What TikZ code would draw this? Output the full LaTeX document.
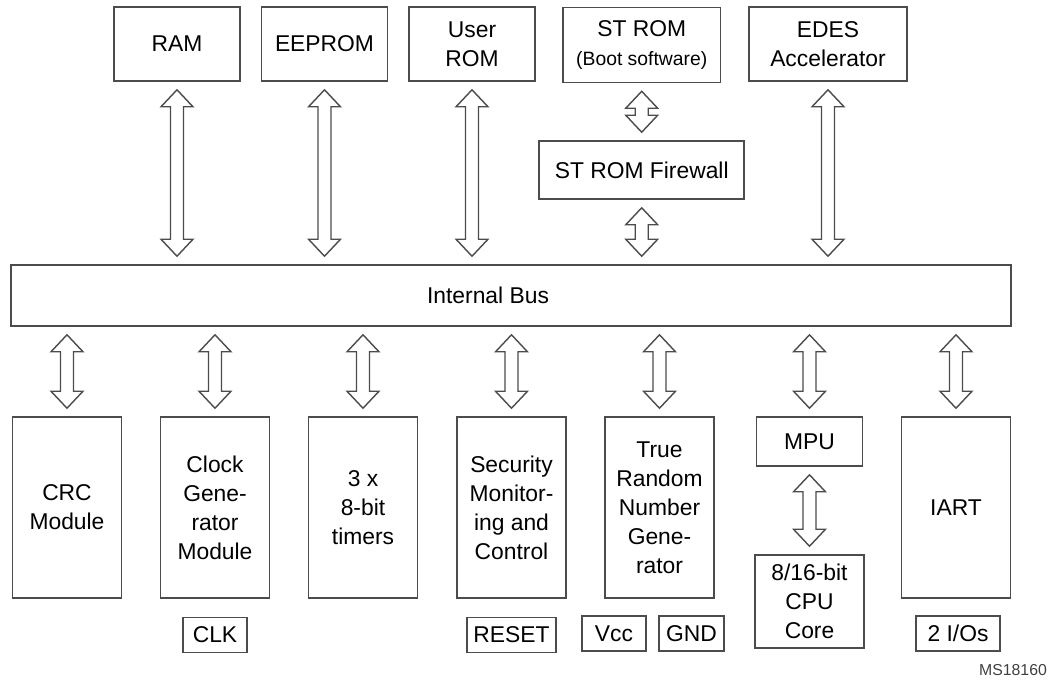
\documentclass[tikz,border=0pt]{standalone}
\usepackage{fontspec}
\setmainfont{Liberation Sans}
\usepackage{tikz}
\usetikzlibrary{positioning, calc}
\tikzstyle{modbox} = [draw=black!70, line width=0.9pt, rectangle, align=center, inner sep=0pt, font=\fontsize{13}{16.5}\selectfont]
\tikzstyle{membox} = [modbox, minimum width=2.52cm, minimum height=1.48cm]
\tikzstyle{widebox} = [modbox, minimum width=3.16cm, minimum height=1.5cm]
\tikzstyle{unitbox} = [modbox, minimum width=2.18cm, minimum height=3.62cm]
\tikzstyle{pinbox} = [modbox, minimum height=0.7cm]
\tikzstyle{dblarrow} = [draw=black!70, line width=0.8pt, fill=white, line join=miter]
% hollow two-headed bus arrow, from the bottom of #1 to the top of #2
\newcommand{\busarrow}[2]{%
	\draw[dblarrow] let \p1=(#1), \p2=(#2) in
		(\x1,\y1-0.16cm) -- (\x1+0.32cm,\y1-0.5cm) -- (\x1+0.13cm,\y1-0.5cm)
		-- (\x1+0.13cm,\y2+0.5cm) -- (\x1+0.32cm,\y2+0.5cm) -- (\x1,\y2+0.16cm)
		-- (\x1-0.32cm,\y2+0.5cm) -- (\x1-0.13cm,\y2+0.5cm)
		-- (\x1-0.13cm,\y1-0.5cm) -- (\x1-0.32cm,\y1-0.5cm) -- cycle;}

\begin{document}
\begin{tikzpicture}[x=0.02cm, y=-0.02cm]
	\useasboundingbox (0,0) rectangle (1050,679);
	% memories
	\node [membox] (ram) at (177,44) {RAM};
	\node [membox] (eeprom) at (324.5,44) {EEPROM};
	\node [membox] (urom) at (472,44) {User\\ROM};
	\node [widebox] (strom) at (641.7,45) {ST ROM\\{\fontsize{11}{13}\selectfont(Boot software)}};
	\node [widebox, minimum height=1.48cm] (edes) at (828,44) {EDES\\Accelerator};
	\node [modbox, minimum width=4.1cm, minimum height=1.16cm] (fw) at (641.7,170) {ST ROM Firewall};
	\node [modbox, minimum width=20cm, minimum height=1.22cm] (bus) at (511,295.5) {\hspace*{-0.92cm}Internal Bus};
	% peripherals
	\node [unitbox] (crc) at (67,507.5) {CRC\\Module};
	\node [unitbox] (clock) at (215,507.5) {Clock\\Gene-\\rator\\Module};
	\node [unitbox] (timers) at (363,507.5) {3 x\\8-bit\\timers};
	\node [unitbox] (secu) at (511.5,507.5) {Security\\Monitor-\\ing and\\Control};
	\node [unitbox] (trng) at (659.5,507.5) {True\\Random\\Number\\Gene-\\rator};
	\node [modbox, minimum width=2.12cm, minimum height=0.98cm] (mpu) at (809.5,441.5) {MPU};
	\node [modbox, minimum width=2.18cm, minimum height=1.86cm] (cpu) at (809.5,601.5) {8/16-bit\\CPU\\Core};
	\node [unitbox] (iart) at (956,507.5) {IART};
	% pins
	\node [pinbox, minimum width=1.28cm, below=0.36cm of clock] (clk) {CLK};
	\node [pinbox, minimum width=1.78cm, below=0.36cm of secu] (reset) {RESET};
	\node [pinbox, minimum width=1.28cm] (vcc) at (614,633.5) {Vcc};
	\node [pinbox, minimum width=1.3cm] (gnd) at (691.5,633.5) {GND};
	\node [pinbox, minimum width=1.68cm] (ios) at (958,633.5) {2 I/Os};
	\node [font=\fontsize{9}{11}\selectfont, text=black!75] (msref) at (1013,670) {MS18160};
	% bus connections
	\busarrow{ram.south}{ram.south |- bus.north}
	\busarrow{eeprom.south}{eeprom.south |- bus.north}
	\busarrow{urom.south}{urom.south |- bus.north}
	\busarrow{strom.south}{fw.north}
	\busarrow{fw.south}{fw.south |- bus.north}
	\busarrow{edes.south}{edes.south |- bus.north}
	\busarrow{crc.north |- bus.south}{crc.north}
	\busarrow{clock.north |- bus.south}{clock.north}
	\busarrow{timers.north |- bus.south}{timers.north}
	\busarrow{secu.north |- bus.south}{secu.north}
	\busarrow{trng.north |- bus.south}{trng.north}
	\busarrow{mpu.north |- bus.south}{mpu.north}
	\busarrow{iart.north |- bus.south}{iart.north}
	\busarrow{mpu.south}{cpu.north}
\end{tikzpicture}
\end{document}
